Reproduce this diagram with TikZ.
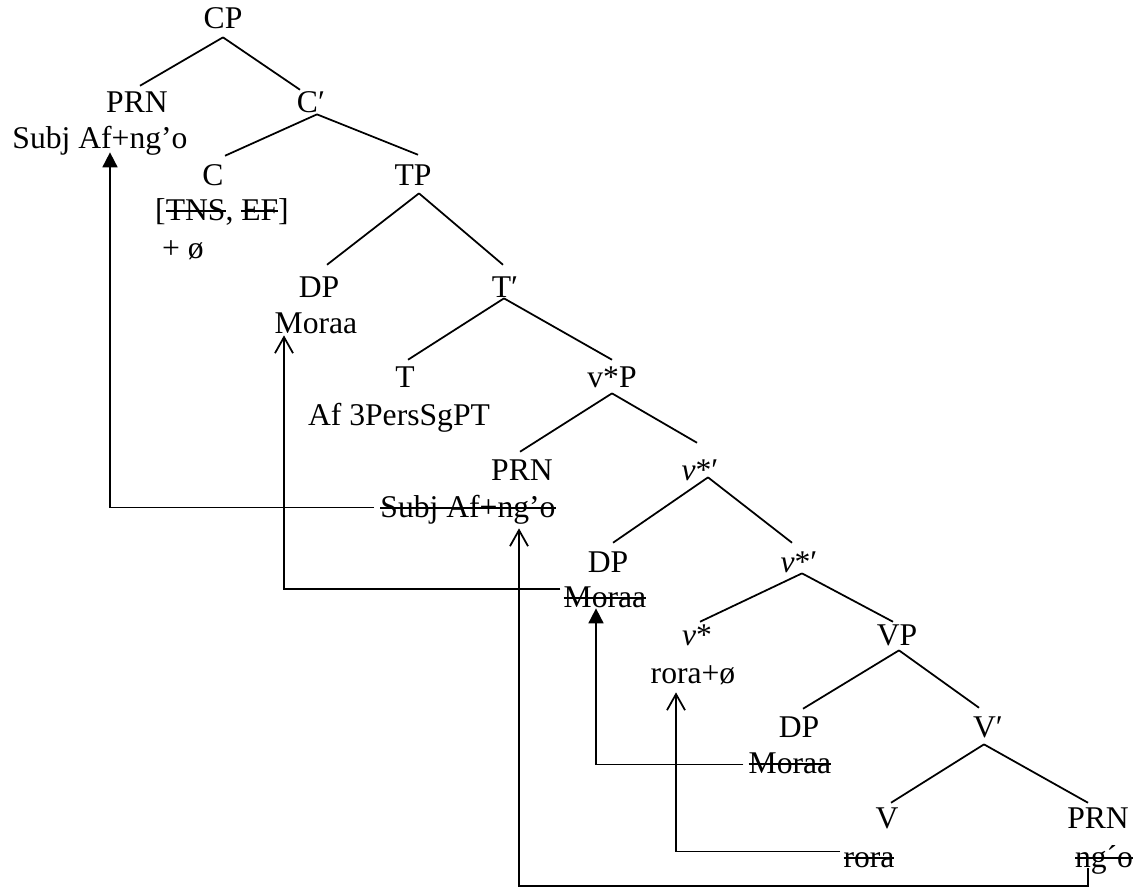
\documentclass[tikz,border=0pt]{standalone}
\usepackage{fontspec}
\setmainfont{Liberation Serif}
\usetikzlibrary{arrows.meta}
\newcommand{\strk}[1]{\leavevmode\setbox0\hbox{#1}\rlap{\rule[0.25em]{\wd0}{0.95pt}}\box0}
\tikzset{
  txt/.style={font=\fontsize{18}{20}\selectfont, inner xsep=0pt, text height=11.9pt, text depth=0pt, anchor=base},
  cat/.style={txt, inner ysep=0.14cm},
  wd/.style={txt, inner ysep=0pt},
  treeline/.style={line width=1pt},
  openarr/.style={line width=1pt, -{Straight Barb[length=0.32cm,width=0.36cm]}},
  fillarr/.style={line width=1pt, -{Triangle[length=0.3cm,width=0.3cm]}},
}
\begin{document}
\begin{tikzpicture}[x=0.02cm, y=-0.02cm]
\useasboundingbox (0,0) rectangle (1136,890);
% nodes
\node[cat] (cp) at (223,28) {CP};
\node[cat] (prn1) at (137,112) {PRN};
\node[wd] (subj1) at (100,148) {Subj Af+ng’o};
\node[cat] (cbar) at (311,112) {C′};
\node[cat] (c) at (213,185) {C};
\node[wd] (feat) at (222,220) {[\strk{TNS}, \strk{EF}]};
\node[wd] (cnull) at (183,258) {+ ø};
\node[cat] (tp) at (413,185) {TP};
\node[cat] (dp1) at (319,297) {DP};
\node[wd] (moraa1) at (316,333) {Moraa};
\node[cat] (tbar) at (505,297) {T′};
\node[cat] (t) at (405,387) {T};
\node[wd] (taf) at (399,425) {Af 3PersSgPT};
\node[cat] (vp1) at (612,387) {v*P};
\node[cat] (prn2) at (522,480) {PRN};
\node[wd] (subj2) at (468,517) {\strk{Subj Af+ng’o}};
\node[cat] (vbar1) at (700,480) {\textit{v}*′};
\node[cat] (dp2) at (608,572) {DP};
\node[wd] (moraa2) at (605,607) {\strk{Moraa}};
\node[cat] (vbar2) at (799,572) {\textit{v}*′};
\node[cat] (vhead) at (697,645) {\textit{v}*};
\node[wd] (roranull) at (693,683) {rora+ø};
\node[cat] (vpp) at (897,645) {VP};
\node[cat] (dp3) at (799,737) {DP};
\node[wd] (moraa3) at (790,773) {\strk{Moraa}};
\node[cat] (vbar) at (988,737) {V′};
\node[cat] (v) at (887,828) {V};
\node[wd] (rora) at (869,867) {\strk{rora}};
\node[cat] (prn3) at (1098,828) {PRN};
\node[wd] (ngo) at (1104,867) {\strk{ng´o}};
% tree edges
\draw[treeline] ([shift={(0,2)}]cp.south) -- ([shift={(3,2)}]prn1.north);
\draw[treeline] ([shift={(0,2)}]cp.south) -- ([shift={(-11,6)}]cbar.north);
\draw[treeline] ([shift={(6,-5)}]cbar.south) -- ([shift={(12,-1)}]c.north);
\draw[treeline] ([shift={(6,-5)}]cbar.south) -- ([shift={(5,-2)}]tp.north);
\draw[treeline] ([shift={(6,1)}]tp.south) -- ([shift={(8,-4)}]dp1.north);
\draw[treeline] ([shift={(6,1)}]tp.south) -- ([shift={(-2,-4)}]tbar.north);
\draw[treeline] ([shift={(-1,-6)}]tbar.south) -- ([shift={(3,1)}]t.north);
\draw[treeline] ([shift={(-1,-6)}]tbar.south) -- ([shift={(0,1)}]vp1.north);
\draw[treeline] ([shift={(0,-1)}]vp1.south) -- ([shift={(-2,0)}]prn2.north);
\draw[treeline] ([shift={(0,-1)}]vp1.south) -- ([shift={(-3,-9)}]vbar1.north);
\draw[treeline] ([shift={(8,-10)}]vbar1.south) -- ([shift={(5,-1)}]dp2.north);
\draw[treeline] ([shift={(8,-10)}]vbar1.south) -- ([shift={(-7,-1)}]vbar2.north);
\draw[treeline] ([shift={(3,-6)}]vbar2.south) -- ([shift={(3,5)}]vhead.north);
\draw[treeline] ([shift={(3,-6)}]vbar2.south) -- ([shift={(-4,5)}]vpp.north);
\draw[treeline] ([shift={(2,-2)}]vpp.south) -- ([shift={(4,0)}]dp3.north);
\draw[treeline] ([shift={(2,-2)}]vpp.south) -- ([shift={(-9,-1)}]vbar.north);
\draw[treeline] ([shift={(-4,0)}]vbar.south) -- ([shift={(4,3)}]v.north);
\draw[treeline] ([shift={(-4,0)}]vbar.south) -- ([shift={(-10,3)}]prn3.north);
% movement arrows
\draw[fillarr] ([shift={(-6,1)}]subj2.west) -| ([shift={(10,4)}]subj1.south);
\draw[openarr] ([shift={(-3,3)}]moraa2.north west) -| ([shift={(-32,2)}]moraa1.south);
\coordinate (rail) at (0,886);
\coordinate (ngofoot) at ([shift={(-16,1)}]ngo.south);
\draw[openarr] (ngofoot) -- (ngofoot |- rail) -| ([shift={(51,11)}]subj2.south);
\draw[fillarr] ([shift={(-5,2)}]moraa3.west) -| ([shift={(-9,1)}]moraa2.south);
\draw[openarr] ([shift={(-3,-5)}]rora.west) -| ([shift={(-17,9)}]roranull.south);
\end{tikzpicture}
\end{document}
